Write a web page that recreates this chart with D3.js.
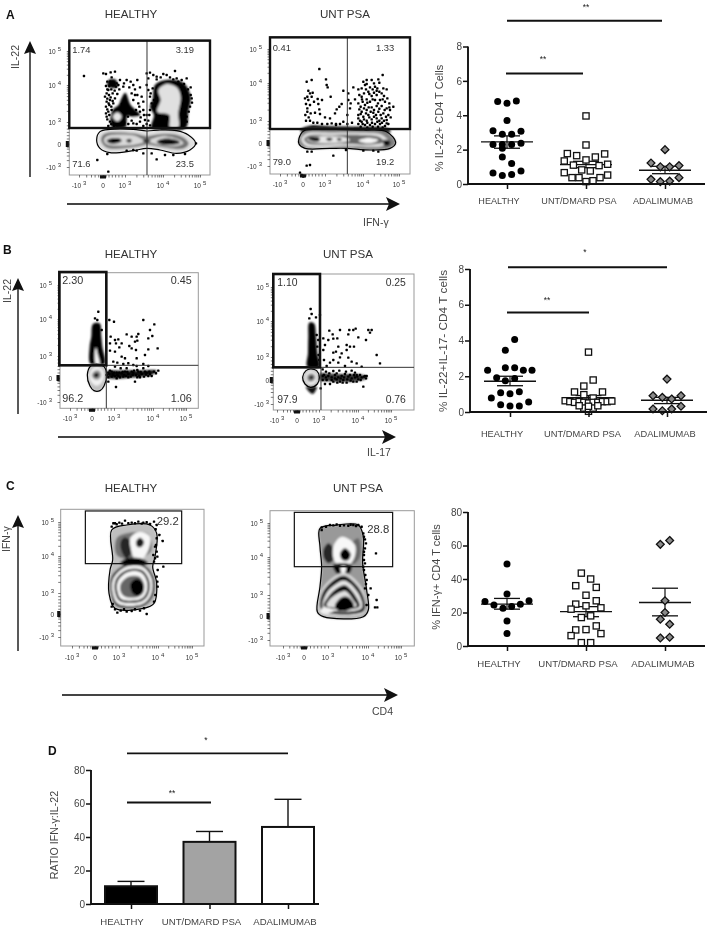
<!DOCTYPE html>
<html><head><meta charset="utf-8">
<script src="https://cdn.jsdelivr.net/npm/d3@7/dist/d3.min.js"></script>
<style>html,body{margin:0;padding:0;background:#fff}svg{display:block;filter:blur(0.3px)}text{font-family:"Liberation Sans",Arial,sans-serif}</style>
</head><body><svg id="c" width="708" height="926"></svg>
<script>
// ---------- DATA ----------
const categories = ["HEALTHY","UNT/DMARD PSA","ADALIMUMAB"];
const decadeTicks = [-1,0,1,2,3];
const decadeExp = ["3","","3","4","5"];
const decadeBase = ["-10","0","10","10","10"];
const minorTicks = [-0.7,-0.5,-0.35,-0.2,-0.12,-0.07,-0.03,0.03,0.07,0.12,0.25,0.4,0.55,0.7,0.85,1.3,1.48,1.6,1.7,1.78,1.85,1.9,1.95,2.3,2.48,2.6,2.7,2.78,2.85,2.9,2.95];

// scatter values (% of CD4 T cells) and their swarm slots
const aHealthy=[4.8,4.7,4.83,3.7,3.1,2.9,2.9,3.07,2.3,2.3,2.3,2.37,2.08,1.57,1.2,.64,.5,.56,.76];
const aHealthySlot=[-1,0,1,0,-1.5,-.5,.5,1.5,-1.5,-.5,.5,1.5,-.5,-.5,.5,-1.5,-.5,.5,1.5];
const aUnt=[3.96,2.27,1.77,1.65,1.4,1.57,1.75,1.34,1.1,.82,.76,1.07,1.15,.66,.37,.37,.14,.19,.37,.52];
const aUntSlot=[0,0,-2,-1,0,1,2,-2.33,-1.35,-.46,.46,1.4,2.32,-2.33,-1.5,-.75,0,.75,1.5,2.32];
const aAda=[2,1.22,1,1,1.07,.27,.14,.17,.37];
const aAdaSlot=[0,-1.5,-.5,.5,1.5,-1.5,-.5,.5,1.5];
const aMean=[2.45,1.13,.8], aUpper=[2.8,1.32,1.03], aLower=[2.08,.95,.6];

const bHealthy=[4.05,3.46,2.34,2.47,2.47,2.33,2.34,1.92,1.75,1.88,1.08,1.02,1.13,.78,.56,.41,.33,.33];
const bHealthySlot=[.5,-.5,-2.4,-.5,.5,1.43,2.36,-1.43,-.5,.5,-1,0,1,-2,2,-1,0,1];
const bUnt=[3.35,1.79,1.12,1.45,1.12,.97,.78,.63,.58,.54,.58,.54,.5,.54,.54,.58,.58,.61,.22,.04,.22,.32,.35,.35];
const bUntSlot=[0,.5,-1.5,-.5,1.5,-.5,.5,-2.5,-2,-1.5,-1,-.5,0,.5,1,1.5,2,2.5,-.5,0,.5,0,-1,1];
const bAda=[1.84,.91,.82,.73,.91,.32,.17,.07,.17];
const bAdaSlot=[0,-1.5,-.5,.5,1.5,1.5,-1.5,-.5,.5];
const bMean=[1.72,.8,.66], bUpper=[2,.92,.82], bLower=[1.47,.66,.47];

const cHealthy=[49,31,26.5,24.5,22.5,23.6,25,27,15,7.4];
const cHealthySlot=[0,0,-2.36,-1.4,-.43,.5,1.43,2.36,0,0];
const cUnt=[43.5,40,36,35,30.3,27,25,24,22.8,22,17,18,12,9.6,9.8,7.4,6.2,2,2];
const cUntSlot=[-.5,.5,-1.1,1.1,0,1.1,-1.1,0,1.6,-1.6,-.5,.5,1.1,-1.1,0,1.6,-1.6,-.5,.5];
const cAda=[60.7,63,27,20,16,13,4.8,5.2];
const cAdaSlot=[-.5,.5,0,0,-.5,.5,-.5,.5];
const cMean=[25,20.5,26], cUpper=[28.4,23.5,34.5], cLower=[22,17.5,18];

const ratioMean=[10.6,37.1,46], ratioUpper=[13.5,43.3,62.5];

// flow cytometry events, in acquisition channels
const a1Dots=[[252,228],[310,220],[318,222],[332,217],[345,215],[335,232],[322,245],[330,245],[340,248],[350,250],[318,258],[328,258],[338,255],[348,260],[355,255],[325,270],[315,290],[327,285],[338,280],[320,305],[330,300],[345,295],[318,320],[328,315],[340,310],[325,335],[335,330],[320,350],[330,365],[325,378],[360,240],[380,240],[392,245],[412,240],[370,260],[388,262],[405,268],[420,262],[395,280],[412,285],[425,290],[400,300],[415,310],[430,305],[440,220],[450,218],[445,235],[440,255],[430,330],[420,335],[440,345],[435,360],[420,365],[400,370],[430,378],[445,270],[450,290],[455,310],[450,330],[460,225],[470,230],[490,222],[500,225],[525,213],[530,235],[545,240],[560,235],[572,262],[570,320],[575,295],[548,378],[560,350],[455,460],[470,478],[495,465],[520,465],[555,462],[322,462],[292,480],[325,515],[588,430],[380,452],[400,450],[410,452],[430,460],
 [322,268],[334,268],[344,272],[320,280],[332,292],[322,296],[338,303],[326,310],[334,320],[322,328],[318,340],[328,345],[322,358],[334,372],[342,378],[352,376],[362,372],[372,368],[385,372],[395,362],[410,372],[422,352],[432,345],[445,362],[440,372],[450,376],[448,345],[462,300],[452,280],[458,265],[470,238],[482,232],[510,232],[520,238],[535,245],[552,252],[564,268],[572,285],[576,308],[566,335],[560,365],[366,312],[384,350],[358,268],[372,250],[400,255],[352,282],[405,285],[418,320],[408,330]];
const a2Dots=[[268,207],[288,238],[290,255],[293,262],[302,290],[230,245],[245,240],[235,272],[248,278],[245,290],[263,297],[276,300],[225,295],[235,300],[228,312],[240,315],[232,325],[242,340],[265,312],[255,338],[270,342],[236,352],[250,368],[228,362],[285,352],[300,355],[305,370],[320,328],[328,320],[335,312],[340,272],[355,280],[315,340],[340,365],[355,300],[362,310],[360,325],[352,345],[370,262],[385,268],[395,265],[375,298],[388,285],[400,245],[410,240],[425,240],[445,238],[458,225],[448,248],[435,260],[420,262],[405,255],[395,290],[402,280],[415,275],[428,268],[442,265],[460,265],[470,268],[455,280],[440,285],[425,288],[410,298],[398,305],[385,310],[392,320],[405,315],[420,305],[435,300],[450,300],[465,305],[478,310],[490,320],[470,325],[455,318],[440,318],[425,322],[410,330],[395,335],[385,345],[400,350],[415,345],[430,338],[445,335],[460,340],[475,345],[480,330],[470,360],[455,355],[440,355],[425,358],[410,362],[395,365],[385,372],[405,375],[420,375],[435,372],[450,372],[465,378],[475,372],[385,355],[232,455],[245,455],[310,467],[348,450],[400,452],[430,452],[445,455],[230,497],[240,495],[210,518],[215,525],[220,530],
 [410,252],[432,250],[440,272],[408,268],[418,282],[432,278],[448,275],[462,288],[396,298],[412,308],[428,298],[444,310],[458,298],[472,295],[388,328],[402,325],[416,322],[432,330],[448,326],[464,330],[478,322],[392,342],[408,340],[422,335],[438,345],[452,345],[468,350],[482,352],[390,362],[402,358],[418,352],[432,350],[448,362],[462,362],[398,372],[412,368],[426,368],[442,365],[456,368],[470,370],[392,380],[412,382],[428,380],[444,380],[458,382],[232,335],[226,345],[240,362],[262,368],[276,372],[292,372],[318,375],[330,372],[352,372],[366,368],[240,280],[232,290],[252,305],[268,328],[318,372]];
const b1Dots=[[295,215],[285,235],[292,240],[305,270],[328,240],[342,245],[430,240],[463,253],[450,270],[457,288],[445,295],[380,283],[395,290],[410,290],[415,282],[345,300],[355,298],[332,290],[330,310],[348,310],[365,310],[388,318],[405,305],[412,302],[395,325],[408,330],[330,332],[345,335],[358,322],[445,328],[473,325],[410,355],[365,350],[375,355],[435,345],[340,365],[352,368],[370,372],[385,370],[400,375],[430,372],[345,380],[362,385],[380,385],[410,378],[430,385],[445,378],[325,398],[335,395],[340,405],[350,398],[355,408],[365,400],[375,395],[385,402],[392,410],[400,398],[408,405],[415,395],[425,402],[432,410],[440,398],[450,402],[462,395],[475,392],[335,410],[350,415],[370,410],[385,412],[405,425],[348,441],[325,425],[412,390],[420,412],[445,408],[320,405],[328,402],[342,398],[358,398],[372,405],[395,395],[418,408],
 [330,392],[345,408],[360,412],[378,408],[398,405],[412,412],[438,404],[455,408],[468,400],[325,412],[338,402],[352,405],[368,396],[382,396],[402,392],[422,396],[435,395],[448,395]];
const b2Dots=[[272,207],[275,222],[268,235],[288,232],[300,225],[328,272],[360,270],[388,270],[400,270],[407,266],[445,270],[455,270],[450,278],[338,283],[340,296],[385,283],[415,292],[438,300],[310,295],[325,300],[352,295],[315,315],[355,320],[380,315],[390,320],[402,320],[340,338],[348,335],[365,340],[380,330],[310,330],[385,353],[360,352],[312,360],[340,360],[355,368],[470,345],[480,370],[395,365],[410,370],[425,380],[330,368],[320,378],[375,378],[308,388],[318,395],[340,393],[358,392],[378,395],[395,392],[405,398],[420,405],[435,408],[312,405],[325,408],[335,412],[345,405],[355,412],[365,408],[375,402],[385,410],[395,415],[405,412],[415,418],[425,412],[438,415],[320,420],[340,425],[360,425],[380,428],[400,425],[430,440],[315,432],[302,445],[330,432],[350,418],[370,420],[390,405],[410,405],
 [295,300],[292,320],[296,345],[298,360],[290,285],[308,408],[318,412],[328,400],[350,400],[362,415],[372,412],[382,418],[392,422],[402,405],[412,410],[422,420],[432,410],[440,408],[335,420],[345,415],[368,428],[410,425],[352,428],[308,420]];
const c1Dots=[[340,130],[375,122],[415,125],[440,127],[462,125],[470,135],[478,165],[488,183],[470,215],[465,235],[490,260],[470,290],[473,320],[440,402],[352,398],[362,392],[380,395],[395,393],[420,392],[335,380],[345,130],[358,128],[395,128],[430,128],[465,200],[460,225],
 [335,140],[350,133],[366,131],[385,130],[405,130],[425,131],[450,132],[467,148],[470,175],[468,195],[472,230],[462,245],[473,270],[472,305],[466,345],[462,365],[345,388],[372,388],[405,388],[432,385],[338,372]];
const c2Dots=[[305,142],[330,135],[350,133],[360,137],[385,137],[400,135],[415,135],[425,140],[435,178],[438,190],[435,205],[432,225],[468,220],[435,250],[432,270],[440,300],[435,325],[452,325],[445,345],[470,360],[465,382],[472,382],[440,375],[430,160],[432,240],
 [318,140],[340,136],[372,136],[392,134],[408,138],[432,170],[432,215],[430,260],[436,285],[438,312],[305,150]];

// density contours: [density 0..1, outline in channels, outlined?]
const a1Contours=[
 [1,[[326,240],[348,240],[352,262],[336,264],[322,258]]],
 [1,[[376,278],[392,315],[420,345],[400,352],[382,348],[378,380],[335,380],[338,330],[356,315],[364,296]]],
 [.1,[[352,337],[365,350],[352,364],[339,350]]],
 [.02,[[388,360],[410,352],[428,372],[405,380],[388,380]]],
 [1,[[458,300],[465,255],[500,240],[550,248],[572,290],[565,335],[556,385],[455,385],[462,345],[450,320]]],
 [.12,[[475,270],[500,252],[530,262],[542,290],[535,340],[535,382],[510,382],[508,345],[472,335],[482,300]]],
 [.12,[[290,420],[300,395],[330,388],[400,388],[440,393],[480,390],[530,392],[565,405],[587,430],[570,450],[530,460],[480,450],[440,445],[400,452],[330,458],[300,445]],true],
 [.55,[[303,420],[312,402],[400,400],[440,408],[480,402],[530,404],[556,416],[566,432],[550,446],[480,440],[440,434],[400,442],[320,443]]],
 [.15,[[312,420],[322,408],[400,406],[436,420],[490,408],[540,420],[550,430],[530,438],[480,435],[440,427],[400,435],[320,433]]],
 [1,[[320,422],[335,415],[360,416],[365,423],[350,430],[330,430]]],
 [.8,[[378,422],[388,416],[396,422],[388,428]]],
 [.95,[[470,425],[490,416],[530,420],[540,428],[510,435],[480,432]]],
 [.9,[[428,422],[440,418],[452,422],[440,428]]]];
const a2Contours=[
 [1,[[213,388],[240,377],[300,379],[400,381],[470,384],[482,396],[213,396]]],
 [.5,[[207,415],[222,392],[300,388],[400,390],[470,395],[497,428],[480,445],[420,450],[350,445],[300,445],[225,445],[207,432]],true],
 [.1,[[214,418],[228,401],[300,398],[400,398],[455,404],[475,425],[455,438],[350,437],[228,438]]],
 [.6,[[222,418],[235,407],[300,405],[400,405],[448,411],[462,426],[420,434],[350,431],[235,431]]],
 [.1,[[230,418],[245,411],[340,411],[360,420],[340,427],[245,427]]],
 [1,[[234,416],[250,411],[268,414],[268,422],[250,424]]],
 [.9,[[288,416],[298,413],[308,416],[298,423]]],
 [.8,[[320,417],[328,414],[336,418],[328,423]]],
 [.03,[[385,422],[415,414],[445,420],[420,430]]],
 [.95,[[462,420],[480,424],[478,436],[462,436]]]];
const b1Contours=[
 [1,[[279,252],[299,250],[304,290],[307,320],[314,372],[272,372],[269,320],[274,290]]],
 [.03,[[288,372],[284,342],[288,322],[293,342],[299,372]]],
 [.95,[[318,395],[360,392],[420,392],[470,392],[455,405],[400,412],[340,416],[318,412]]],
 [.25,[[262,405],[272,378],[290,372],[312,380],[320,405],[312,438],[300,452],[282,452],[270,438]],true],
 [.06,[[268,405],[278,385],[292,380],[306,387],[313,405],[305,428],[290,437],[275,428]]],
 [.4,[[275,405],[285,392],[298,392],[304,405],[297,418],[283,418]]],
 [.95,[[281,405],[287,399],[293,399],[297,405],[292,412],[285,412]]]];
const b2Contours=[
 [1,[[268,248],[282,250],[288,290],[292,340],[298,380],[262,380],[264,340],[265,290]]],
 [.8,[[298,402],[350,402],[430,405],[442,414],[400,425],[340,425],[300,420]]],
 [.95,[[258,440],[290,440],[278,462]]],
 [.3,[[248,412],[258,392],[272,387],[290,392],[298,412],[292,432],[272,442],[255,432]],true],
 [.06,[[254,412],[262,396],[272,392],[286,397],[293,412],[285,430],[272,435],[260,428]]],
 [.4,[[260,412],[266,402],[272,400],[282,402],[287,412],[280,424],[272,426],[264,424]]],
 [.92,[[266,412],[272,407],[278,407],[281,412],[277,418],[270,418]]]];
const c1Contours=[
 [.25,[[335,150],[380,135],[450,135],[470,160],[465,230],[458,260],[470,310],[462,370],[430,385],[345,385],[327,340],[330,270],[338,240]],true],
 [.55,[[350,175],[380,160],[445,162],[452,215],[395,238],[350,225]]],
 [.85,[[362,185],[375,172],[392,185],[395,215],[380,235],[365,215]]],
 [.03,[[392,172],[420,155],[450,170],[445,210],[425,238],[405,238],[392,205]]],
 [.9,[[408,185],[420,173],[432,185],[425,200],[412,200]]],
 [1,[[378,236],[425,236],[445,250],[400,258],[360,250]]],
 [.9,[[335,290],[375,255],[430,255],[460,290],[460,345],[430,378],[350,378],[333,340]]],
 [.04,[[340,295],[378,260],[428,260],[455,295],[454,342],[428,372],[355,372],[338,340]]],
 [.85,[[347,300],[380,270],[425,270],[447,300],[446,340],[425,364],[360,364],[346,340]]],
 [.03,[[353,305],[382,277],[422,277],[441,305],[439,338],[420,358],[365,358],[353,338]]],
 [.6,[[362,312],[385,290],[418,290],[432,312],[430,335],[415,350],[375,350],[362,335]]],
 [1,[[392,310],[410,296],[428,308],[430,335],[415,348],[397,340]]]];
const c2Contours=[
 [.4,[[300,145],[350,135],[415,135],[430,170],[428,250],[440,330],[445,390],[430,410],[310,410],[292,395],[300,320],[305,260],[300,200]],true],
 [.85,[[310,210],[325,190],[340,205],[340,240],[325,250],[312,235]]],
 [.6,[[395,190],[415,175],[420,230],[400,252],[390,230]]],
 [.03,[[340,200],[365,170],[405,195],[400,240],[375,260],[345,245]]],
 [1,[[360,222],[375,205],[392,222],[385,240],[368,240]]],
 [1,[[340,255],[395,255],[388,280],[372,282],[352,282]]],
 [.03,[[362,260],[378,260],[374,280],[366,280]]],
 [.15,[[302,335],[340,292],[375,278],[430,330],[438,392],[425,405],[310,405],[295,390]]],
 [.95,[[308,338],[345,298],[375,288],[425,338],[432,392],[310,395],[300,380]]],
 [.1,[[318,342],[348,312],[375,302],[415,340],[425,385],[310,385]]],
 [.95,[[325,350],[352,324],[375,316],[408,350],[418,380],[312,378]]],
 [.12,[[328,360],[360,337],[378,334],[400,360],[410,378],[320,378]]],
 [1,[[345,378],[365,352],[385,352],[402,378],[380,392],[355,392]]],
 [.05,[[305,398],[340,395],[330,385],[305,385]]]];

// gates & populations
const a1Pct=["1.74","3.19","71.6","23.5"], a2Pct=["0.41","1.33","79.0","19.2"];
const b1Pct=["2.30","0.45","96.2","1.06"], b2Pct=["1.10","0.25","97.9","0.76"];
const c1Pct=["29.2"], c2Pct=["28.8"];

// ---------- DRAW ----------
const svg=d3.select("#c");
const defs=svg.append("defs");
defs.append("filter").attr("id","soft").attr("x","-5%").attr("y","-5%").attr("width","110%").attr("height","110%")
 .append("feGaussianBlur").attr("stdDeviation",0.8);
const shade=d3.scaleLinear().domain([0,1]).range(["#ffffff","#000000"]);
const blob=d3.line().curve(d3.curveCatmullRomClosed.alpha(.5));
const TXT="#444";

function txt(g,s,x,y,o={}){
 return g.append("text").attr("x",x).attr("y",y).attr("font-size",o.size||9).attr("fill",o.fill||TXT)
  .attr("text-anchor",o.anchor||"start").attr("font-weight",o.weight||null)
  .attr("transform",o.rot?`rotate(${o.rot} ${x} ${y})`:null).text(s);
}
function arrowV(x,y1,y2){
 svg.append("line").attr("x1",x).attr("x2",x).attr("y1",y1).attr("y2",y2+6).attr("stroke","#222").attr("stroke-width",1.5);
 svg.append("path").attr("d",d3.line()([[x,y2],[x+6,y2+13],[x,y2+11],[x-6,y2+13]])+"Z").attr("fill","#111");
}
function arrowH(x1,x2,y){
 svg.append("line").attr("x1",x1).attr("x2",x2-6).attr("y1",y).attr("y2",y).attr("stroke","#444").attr("stroke-width",1.9);
 svg.append("path").attr("d",d3.line()([[x2,y],[x2-14,y-7],[x2-11,y],[x2-14,y+7]])+"Z").attr("fill","#111");
}
function flow(p){
 const g=svg.append("g");
 const [L,T,R,B]=p.frame;
 const x=d3.scaleLinear().domain(p.xChan).range([L,R]);
 const y=d3.scaleLinear().domain(p.yChan).range([T,B]);
 const xd=d3.scaleLinear().domain(decadeTicks).range(p.xDec);
 const yd=d3.scaleLinear().domain(decadeTicks).range(p.yDec);
 g.append("rect").attr("x",L).attr("y",T).attr("width",R-L).attr("height",B-T).attr("fill","#fff").attr("stroke","#999").attr("stroke-width",1);
 const pathOf=d=>blob(d[1].map(q=>[x(q[0]),y(q[1])]));
 g.append("g").attr("filter","url(#soft)").selectAll("path").data(p.contours).join("path").attr("d",pathOf).attr("fill",d=>shade(d[0]));
 g.append("g").selectAll("path").data(p.contours.filter(d=>d[2])).join("path").attr("d",pathOf).attr("fill","none").attr("stroke","#000").attr("stroke-width",1.2);
 g.append("g").selectAll("rect").data(p.dots).join("rect")
  .attr("x",d=>x(d[0])-1.2).attr("y",d=>y(d[1])-1.2).attr("width",2.4).attr("height",2.4).attr("rx",.6).attr("fill","#000");
 // axes
 const ax=g.append("g").attr("transform",`translate(0,${B})`)
  .call(d3.axisBottom(xd).tickValues(minorTicks.concat(decadeTicks)).tickFormat("").tickSize(2.5).tickSizeOuter(0));
 const ay=g.append("g").attr("transform",`translate(${L},0)`)
  .call(d3.axisLeft(yd).tickValues(minorTicks.concat(decadeTicks)).tickFormat("").tickSize(2.5).tickSizeOuter(0));
 [ax,ay].forEach(a=>{a.select(".domain").remove();a.selectAll("line").attr("stroke","#222").attr("stroke-width",.6);});
 g.append("rect").attr("x",xd(0)-3).attr("y",B+.5).attr("width",6).attr("height",3).attr("fill","#111");
 g.append("rect").attr("x",L-3.5).attr("y",yd(0)-3).attr("width",3).attr("height",6).attr("fill","#111");
 decadeTicks.forEach((d,i)=>{
  const t=txt(g,decadeBase[i],xd(d)+p.xLabDx,B+p.xLabDy,{size:6.5,anchor:"middle",fill:"#333"});
  if(decadeExp[i])t.append("tspan").attr("dx",2).attr("dy",-3).attr("font-size",6).text(decadeExp[i]);
  const u=txt(g,decadeBase[i],p.yLabEnd,yd(d)+2.5,{size:6.5,anchor:"end",fill:"#333"});
  if(decadeExp[i])u.append("tspan").attr("dx",2).attr("dy",-3).attr("font-size",6).text(decadeExp[i]);
 });
 // gates
 p.thin.forEach(l=>g.append("line").attr("x1",x(l[0])).attr("y1",y(l[1])).attr("x2",x(l[2])).attr("y2",y(l[3])).attr("stroke","#333").attr("stroke-width",p.thinW||1));
 g.append("rect").attr("x",x(p.gate[0])).attr("y",y(p.gate[1])).attr("width",x(p.gate[2])-x(p.gate[0])).attr("height",y(p.gate[3])-y(p.gate[1]))
  .attr("fill","none").attr("stroke","#111").attr("stroke-width",p.gateW);
 p.pct.forEach((s,i)=>txt(g,s,x(p.pctPos[i][0]),y(p.pctPos[i][1]),{size:p.pctSize,fill:"#333"}));
 txt(svg,p.title,p.titleX,p.titleY,{size:11.6,anchor:"middle",fill:"#333"});
}
const flowPanels=[
 {title:"HEALTHY",titleX:131,titleY:18,frame:[69.3,40,210,175],xChan:[208,630],yChan:[120,525],xDec:[79,103,125,163,200],yDec:[167,144,122,85,51],xLabDx:0,xLabDy:13,yLabEnd:61,
  contours:a1Contours,dots:a1Dots,gate:[208,122,630,384],gateW:2.4,thin:[[441,120,441,525]],pct:a1Pct,pctPos:[[217,158],[527,158],[217,500],[527,500]],pctSize:9.4},
 {title:"UNT PSA",titleX:345,titleY:18,frame:[270,36.7,410,174],xChan:[120,540],yChan:[110,522],xDec:[280,303,325,363,399],yDec:[166,143,121,83,49],xLabDx:0,xLabDy:13,yLabEnd:262,
  contours:a2Contours,dots:a2Dots,gate:[120,112,540,387],gateW:2.4,thin:[[352,110,352,522]],pct:a2Pct,pctPos:[[128,152],[438,152],[128,495],[438,495]],pctSize:9.4},
 {title:"HEALTHY",titleX:131,titleY:258,frame:[60,272.7,198.3,408.3],xChan:[180,595],yChan:[98,505],xDec:[70,92,114,153,186],yDec:[402,378,356,319,285],xLabDx:0,xLabDy:13,yLabEnd:52,
  contours:b1Contours,dots:b1Dots,gate:[178,96,319,376],gateW:2.6,thin:[[319,376,319,505],[319,376,595,376]],pct:b1Pct,pctPos:[[187,131],[512,131],[187,485],[512,485]],pctSize:10.8},
 {title:"UNT PSA",titleX:348,titleY:258,frame:[273.3,274,414,410],xChan:[160,582],yChan:[102,510],xDec:[277,297,319,358,391],yDec:[404,380,357,321,287],xLabDx:0,xLabDy:13,yLabEnd:269,
  contours:b2Contours,dots:b2Dots,gate:[160,102,300,382],gateW:2.6,thin:[[303,382,303,510],[303,382,582,382]],pct:b2Pct,pctPos:[[172,138],[497,138],[172,490],[497,490]],pctSize:10.4},
 {title:"HEALTHY",titleX:131,titleY:492,frame:[60.7,509.3,204,646],xChan:[182,612],yChan:[88,498],xDec:[72,95,119,158,192],yDec:[637,614,593,556,522],xLabDx:0,xLabDy:14,yLabEnd:54,
  contours:c1Contours,dots:c1Dots,gate:[256,93,545,251],gateW:1.2,thin:[],pct:c1Pct,pctPos:[[470,136]],pctSize:11.3},
 {title:"UNT PSA",titleX:358,titleY:492,frame:[270,510.7,414.3,646],xChan:[150,583],yChan:[92,498],xDec:[283,304,328,368,401],yDec:[640,616,595,557,523],xLabDx:0,xLabDy:14,yLabEnd:263,
  contours:c2Contours,dots:c2Dots,gate:[223,97,518,260],gateW:1.2,thin:[],pct:c2Pct,pctPos:[[442,160]],pctSize:11.3}
];
flowPanels.forEach(flow);

// flow arrows and labels
arrowV(30,177,41); arrowH(67,400,204);
txt(svg,"IL-22",19,69,{size:10.6,rot:-90});
txt(svg,"IFN-γ",363,226,{size:10.5});
arrowV(18,414,278); arrowH(58,396,437);
txt(svg,"IL-22",11,303,{size:10.6,rot:-90});
txt(svg,"IL-17",367,456,{size:10.5});
arrowV(18,651,515); arrowH(62,398,695);
txt(svg,"IFN-γ",10,552,{size:10.5,rot:-90});
txt(svg,"CD4",372,715,{size:10.5});
[["A",6,18.5],["B",3,254],["C",6,490],["D",48,755]].forEach(d=>txt(svg,d[0],d[1],d[2],{size:12,weight:"bold",fill:"#111"}));

function swarm(p){
 const g=svg.append("g");
 const x=d3.scalePoint().domain(categories).range(p.xRange);
 const y=d3.scaleLinear().domain(p.yDomain).range([p.y0,p.yTop]);
 const step=9.33;
 // whiskers
 categories.forEach((c,i)=>{
  const cx=x(c);
  g.append("line").attr("x1",cx).attr("x2",cx).attr("y1",y(p.upper[i])).attr("y2",y(p.lower[i])).attr("stroke","#111").attr("stroke-width",1.2);
  [p.upper[i],p.lower[i]].forEach(v=>g.append("line").attr("x1",cx-13).attr("x2",cx+13).attr("y1",y(v)).attr("y2",y(v)).attr("stroke","#111").attr("stroke-width",1.3));
  g.append("line").attr("x1",cx-26).attr("x2",cx+26).attr("y1",y(p.mean[i])).attr("y2",y(p.mean[i])).attr("stroke","#111").attr("stroke-width",1.4);
 });
 // points
 p.vals[0].forEach((v,i)=>g.append("circle").attr("cx",x(categories[0])+p.slots[0][i]*step).attr("cy",y(v)).attr("r",3.5).attr("fill","#000"));
 p.vals[1].forEach((v,i)=>g.append("rect").attr("x",x(categories[1])+p.slots[1][i]*step-3.1).attr("y",y(v)-3.1).attr("width",6.2).attr("height",6.2).attr("fill","#fff").attr("stroke","#111").attr("stroke-width",1.3));
 p.vals[2].forEach((v,i)=>{const cx=x(categories[2])+p.slots[2][i]*step,cy=y(v),r=3.9;
  g.append("path").attr("d",d3.line()([[cx,cy-r],[cx+r,cy],[cx,cy+r],[cx-r,cy]])+"Z").attr("fill","#8a8a8a").attr("stroke","#111").attr("stroke-width",1.3);});
 axes(g,x,y,p);
}
function axes(g,x,y,p){
 const ay=g.append("g").attr("transform",`translate(${p.x0},0)`)
  .call(d3.axisLeft(y).tickValues(p.yTicks).tickSize(5).tickPadding(1).tickSizeOuter(0));
 ay.select(".domain").attr("d",`M0,${y(p.yDomain[1])}V${y(0)}`).attr("stroke","#111").attr("stroke-width",1.9);
 ay.selectAll("line").attr("stroke","#111").attr("stroke-width",1.5);
 ay.selectAll("text").attr("font-size",10).attr("fill",TXT).attr("font-family",'"Liberation Sans",Arial,sans-serif');
 const ax=g.append("g").attr("transform",`translate(0,${p.y0})`)
  .call(d3.axisBottom(x).tickSize(5).tickFormat("").tickSizeOuter(0));
 ax.select(".domain").attr("d",`M${p.x0},0H${p.xEnd}`).attr("stroke","#111").attr("stroke-width",1.9);
 ax.selectAll("line").attr("stroke","#111").attr("stroke-width",1.5);
 categories.forEach((c,i)=>txt(g,c,x(c)+p.labDx[i],p.labY,{size:p.labSize,anchor:"middle",fill:TXT}));
 txt(g,p.yTitle,p.yTitleX,p.yTitleY,{size:p.yTitleSize,anchor:"middle",rot:-90});
 p.sig.forEach(s=>{
  g.append("line").attr("x1",s.x1).attr("x2",s.x2).attr("y1",y(s.v)).attr("y2",y(s.v)).attr("stroke","#111").attr("stroke-width",1.9);
  txt(g,s.t,s.tx,y(s.v)-s.dy,{size:8.5,anchor:"middle",fill:"#222"});
 });
}
swarm({xRange:[507,665],yDomain:[0,8],y0:184,yTop:46.5,x0:468,xEnd:705,yTicks:[0,2,4,6,8],
 vals:[aHealthy,aUnt,aAda],slots:[aHealthySlot,aUntSlot,aAdaSlot],mean:aMean,upper:aUpper,lower:aLower,
 labDx:[-8,-7,-2],labY:203.5,labSize:9.1,yTitle:"% IL-22+ CD4 T Cells",yTitleX:443,yTitleY:118,yTitleSize:11,
 sig:[{x1:507,x2:662,v:9.5,t:"**",tx:586,dy:11},{x1:506,x2:583,v:6.43,t:"**",tx:543,dy:11}]});
swarm({xRange:[510,667],yDomain:[0,8],y0:412,yTop:269,x0:470,xEnd:707,yTicks:[0,2,4,6,8],
 vals:[bHealthy,bUnt,bAda],slots:[bHealthySlot,bUntSlot,bAdaSlot],mean:bMean,upper:bUpper,lower:bLower,
 labDx:[-8,-6,-2],labY:436.5,labSize:9.3,yTitle:"% IL-22+IL-17- CD4 T cells",yTitleX:447,yTitleY:341,yTitleSize:11.8,
 sig:[{x1:508,x2:667,v:8.1,t:"*",tx:585,dy:12},{x1:507,x2:589,v:5.57,t:"**",tx:547,dy:9}]});
swarm({xRange:[507,665],yDomain:[0,80],y0:646,yTop:512,x0:468,xEnd:705,yTicks:[0,20,40,60,80],
 vals:[cHealthy,cUnt,cAda],slots:[cHealthySlot,cUntSlot,cAdaSlot],mean:cMean,upper:cUpper,lower:cLower,
 labDx:[-8,-8,-2],labY:667,labSize:9.6,yTitle:"% IFN-γ+ CD4 T cells",yTitleX:440,yTitleY:577,yTitleSize:11,sig:[]});

// bar panel D
{
 const p={xRange:[131,288],yDomain:[0,80],y0:904,yTop:770,x0:91,xEnd:319,yTicks:[0,20,40,60,80],
  labDx:[-9,-8,-3],labY:925,labSize:9.6,yTitle:"RATIO IFN-γ:IL-22",yTitleX:58,yTitleY:835,yTitleSize:10.7,
  sig:[{x1:127,x2:288,v:89.9,t:"*",tx:206,dy:10},{x1:127,x2:211,v:60.6,t:"**",tx:172,dy:6}]};
 const g=svg.append("g");
 const x=d3.scalePoint().domain(categories).range(p.xRange);
 const y=d3.scaleLinear().domain(p.yDomain).range([p.y0,p.yTop]);
 const fills=["#000","#a3a3a3","#fff"];
 categories.forEach((c,i)=>{
  const cx=x(c);
  g.append("line").attr("x1",cx).attr("x2",cx).attr("y1",y(ratioUpper[i])).attr("y2",y(ratioMean[i])).attr("stroke","#111").attr("stroke-width",1.4);
  g.append("line").attr("x1",cx-13.5).attr("x2",cx+13.5).attr("y1",y(ratioUpper[i])).attr("y2",y(ratioUpper[i])).attr("stroke","#111").attr("stroke-width",1.4);
  g.append("rect").attr("x",cx-26).attr("width",52).attr("y",y(ratioMean[i])).attr("height",y(0)-y(ratioMean[i])).attr("fill",fills[i]).attr("stroke","#111").attr("stroke-width",2);
 });
 axes(g,x,y,p);
}
</script></body></html>
